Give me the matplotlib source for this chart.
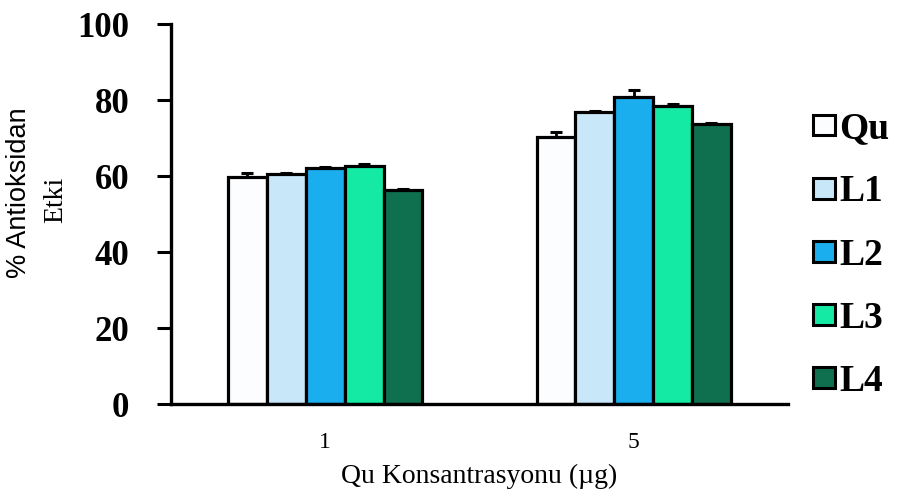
import numpy as np
import matplotlib
matplotlib.use("Agg")
import matplotlib.pyplot as plt

# data
concentrations = ["1", "5"]
series_names = ["Qu", "L1", "L2", "L3", "L4"]
values = {
    "Qu": [59.7, 70.3],
    "L1": [60.5, 76.8],
    "L2": [62.0, 80.8],
    "L3": [62.6, 78.4],
    "L4": [56.3, 73.6],
}
errors = {
    "Qu": [1.2, 1.2],
    "L1": [0.4, 0.4],
    "L2": [0.5, 1.8],
    "L3": [0.6, 0.5],
    "L4": [0.4, 0.4],
}
colors = ["#fbfdff", "#c8e8fa", "#1aaeee", "#14eaa4", "#0f7050"]

SERIF = "Liberation Serif"
SANS = "Liberation Sans"

fig = plt.figure(figsize=(8.98, 5.01), dpi=100)
ax = fig.add_axes([0.1904, 0.1936, 0.6871, 0.7584])

x = np.arange(len(concentrations))
width = 0.126
n = len(series_names)
for i, (name, col) in enumerate(zip(series_names, colors)):
    offs = (i - (n - 1) / 2) * width
    ax.bar(x + offs, values[name], width, color=col, edgecolor="black",
           linewidth=2.3, label=name, zorder=2)
    ax.errorbar(x + offs, values[name], yerr=[np.zeros(len(x)), errors[name]],
                fmt="none", ecolor="black", elinewidth=2.0, capsize=4,
                capthick=2.2, zorder=1)

ax.set_xlim(-0.5, 1.5)
ax.set_ylim(0, 100)
ax.set_yticks([0, 20, 40, 60, 80, 100])
ax.set_xticks(x)
ax.set_xticklabels(concentrations, fontfamily=SERIF, fontsize=17)
for lbl in ax.get_yticklabels():
    lbl.set_fontfamily(SERIF)
    lbl.set_fontweight("bold")
    lbl.set_fontsize(25)

ax.tick_params(axis="y", direction="out", length=10, width=2.2, pad=20)
ax.tick_params(axis="x", length=0, pad=20)
for s in ["top", "right"]:
    ax.spines[s].set_visible(False)
ax.spines["left"].set_linewidth(2.4)
ax.spines["bottom"].set_linewidth(2.4)

ax.set_xlabel("Qu Konsantrasyonu (µg)", fontfamily=SERIF, fontsize=20, labelpad=8)

fig.text(19 / 898, 1 - 193 / 501, "% Antioksidan", rotation=90, ha="center",
         va="center", fontfamily=SANS, fontsize=19.5)
fig.text(56 / 898, 1 - 200 / 501, "Etki", rotation=90, ha="center",
         va="center", fontfamily=SERIF, fontsize=20)

leg = ax.legend(loc="center left", bbox_to_anchor=(1.016, 0.392), frameon=False,
                prop={"family": SERIF, "weight": "bold", "size": 27},
                handlelength=0.58, handleheight=0.48, handletextpad=0.12,
                labelspacing=0.75, borderaxespad=0)
for h in leg.legend_handles:
    h.set_linewidth(2.2)

fig.savefig("out.png", dpi=100)
